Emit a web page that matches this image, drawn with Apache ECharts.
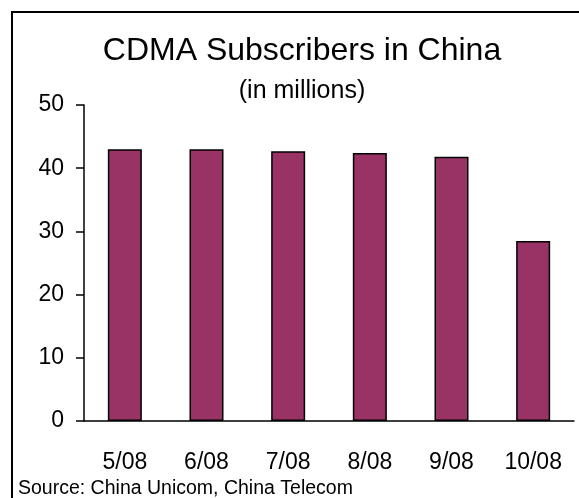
<!DOCTYPE html>
<html>
<head>
<meta charset="utf-8">
<script src="https://cdn.jsdelivr.net/npm/echarts@6/dist/echarts.min.js"></script>
<style>
  html, body { margin: 0; padding: 0; background: #fff; }
  #main { width: 579px; height: 498px; }
</style>
</head>
<body>
<div id="main"></div>
<script>
var months = ['5/08', '6/08', '7/08', '8/08', '9/08', '10/08'];
var subscribers = [43.0, 43.0, 42.7, 42.4, 41.8, 28.5];
var yTicks = [0, 10, 20, 30, 40, 50];

var chartDom = document.getElementById('main');
var myChart = echarts.init(chartDom);
var font = 'Liberation Sans, Arial, sans-serif';

var option = {
  animation: false,
  backgroundColor: '#fff',
  title: [
    {
      text: 'CDMA Subscribers in China',
      left: 302,
      top: 35,
      padding: 0,
      textAlign: 'center',
      textStyle: { fontFamily: font, fontSize: 32, fontWeight: 'normal', color: '#000' }
    },
    {
      text: '(in millions)',
      left: 302,
      top: 79,
      padding: 0,
      textAlign: 'center',
      textStyle: { fontFamily: font, fontSize: 25, fontWeight: 'normal', color: '#000' }
    },
    {
      text: 'Source: China Unicom, China Telecom',
      left: 18,
      top: 479,
      padding: 0,
      textStyle: { fontFamily: font, fontSize: 19.5, fontWeight: 'normal', color: '#000' }
    }
  ],
  graphic: [
    {
      type: 'rect',
      shape: { x: 12, y: 12, width: 640, height: 600 },
      style: { fill: 'none', stroke: '#000', lineWidth: 2 },
      silent: true
    }
  ],
  grid: { left: 84, right: 5, top: 105, bottom: 77 },
  xAxis: {
    type: 'category',
    data: months,
    axisLine: { lineStyle: { color: '#000', width: 1.5 } },
    axisTick: { length: 8, lineStyle: { color: '#000', width: 1.5 } },
    axisLabel: { color: '#000', fontFamily: font, fontSize: 23, margin: 30 }
  },
  yAxis: {
    type: 'value',
    min: yTicks[0],
    max: yTicks[yTicks.length - 1],
    interval: 10,
    splitLine: { show: false },
    axisLine: { show: true, lineStyle: { color: '#000', width: 1.5 } },
    axisTick: { show: true, length: 8, lineStyle: { color: '#000', width: 1.5 } },
    axisLabel: { color: '#000', fontFamily: font, fontSize: 23, margin: 20 }
  },
  series: [
    {
      name: 'CDMA Subscribers',
      type: 'bar',
      data: subscribers,
      barWidth: 34,
      itemStyle: { color: '#993366', borderColor: '#000', borderWidth: 1.5 }
    }
  ]
};

myChart.setOption(option);
</script>
</body>
</html>
